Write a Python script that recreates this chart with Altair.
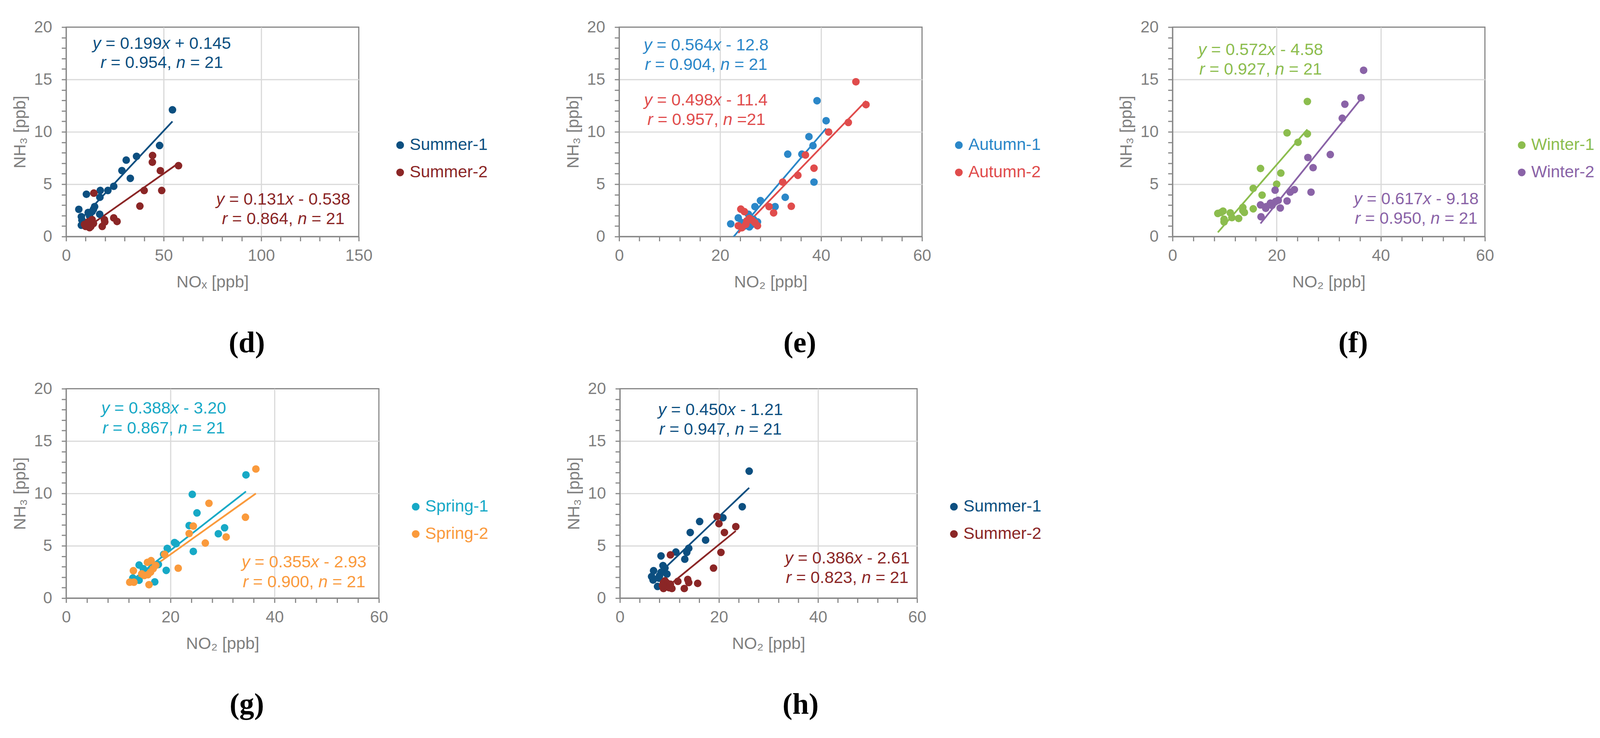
import altair as alt
import pandas as pd

# ---------------- data ----------------
series_d = ["Summer-1", "Summer-2"]
series_e = ["Autumn-1", "Autumn-2"]
series_f = ["Winter-1", "Winter-2"]
series_g = ["Spring-1", "Spring-2"]
series_h = ["Summer-1", "Summer-2"]

d_s1_x = [54.5, 47.9, 36.1, 30.8, 28.6, 32.9, 24.4, 21.4, 17.5, 17.3, 10.4, 6.5, 14.6, 13.3, 17.2, 7.8, 12.0, 8.1, 7.8, 14.0, 11.3]
d_s1_y = [12.1, 8.7, 7.66, 7.3, 6.3, 5.56, 4.8, 4.4, 4.4, 3.75, 4.04, 2.6, 2.86, 2.38, 2.13, 1.9, 1.97, 1.57, 1.08, 2.6, 2.3]
d_s2_x = [57.6, 44.3, 44.2, 48.3, 49.0, 40.0, 37.8, 14.2, 24.4, 26.1, 19.6, 18.5, 13.3, 11.3, 10.0, 12.7, 10.7, 14.0, 12.0, 19.8, 9.4]
d_s2_y = [6.77, 7.74, 7.1, 6.29, 4.4, 4.4, 2.91, 4.15, 1.78, 1.44, 1.62, 0.97, 1.62, 1.4, 0.97, 0.97, 1.13, 1.25, 0.85, 1.4, 1.16]

e_s1_x = [39.2, 41.0, 37.6, 38.4, 33.4, 36.2, 38.6, 32.9, 28.0, 30.9, 26.9, 23.6, 22.1, 25.3, 25.8, 26.3, 24.8, 26.6, 24.3, 25.6, 27.4]
e_s1_y = [12.97, 11.06, 9.54, 8.68, 7.87, 7.87, 5.2, 3.75, 3.43, 2.86, 2.86, 1.78, 1.21, 1.5, 0.92, 1.16, 1.0, 1.65, 1.33, 2.13, 1.4]
e_s2_x = [46.9, 48.9, 45.4, 41.5, 36.9, 38.6, 35.4, 32.4, 29.7, 30.6, 34.1, 24.1, 24.8, 27.4, 23.6, 25.3, 26.3, 24.3, 25.8, 25.1, 26.9]
e_s2_y = [14.78, 12.6, 10.9, 9.98, 7.79, 6.53, 5.85, 5.2, 2.86, 2.26, 2.89, 2.62, 2.38, 1.03, 1.03, 1.5, 1.57, 0.84, 1.73, 1.16, 1.33]

f_s1_x = [25.9, 25.9, 22.0, 24.1, 20.8, 16.9, 20.0, 15.5, 17.2, 15.5, 13.5, 13.8, 11.1, 9.7, 8.7, 12.7, 11.4, 9.9, 9.9, 13.5, 9.3]
f_s1_y = [12.9, 9.81, 9.9, 9.0, 6.06, 6.5, 5.0, 4.6, 3.96, 2.65, 2.78, 2.3, 2.26, 2.43, 2.21, 1.73, 1.81, 1.4, 1.65, 2.49, 2.3]
f_s2_x = [36.7, 36.2, 33.1, 32.6, 30.3, 26.0, 27.0, 26.6, 23.4, 22.6, 19.7, 22.0, 20.3, 18.8, 20.7, 16.9, 17.9, 17.0, 19.1, 19.8, 18.0]
f_s2_y = [15.88, 13.26, 12.64, 11.3, 7.83, 7.55, 6.58, 4.24, 4.48, 4.24, 4.43, 3.4, 3.46, 3.19, 2.73, 3.02, 2.7, 1.89, 2.97, 3.35, 2.86]

g_s1_x = [34.5, 24.2, 25.1, 23.6, 30.4, 29.2, 20.8, 24.4, 19.4, 17.7, 14.0, 19.2, 17.0, 14.0, 12.8, 15.7, 14.8, 16.5, 18.7, 21.1, 14.8]
g_s1_y = [11.77, 9.91, 8.14, 6.93, 6.72, 6.15, 5.31, 4.46, 4.75, 3.21, 3.16, 2.65, 1.55, 1.71, 1.92, 2.49, 2.81, 2.97, 4.18, 5.2, 2.26]
g_s2_x = [36.4, 27.4, 34.4, 24.4, 23.6, 30.7, 26.7, 18.9, 21.5, 15.6, 16.3, 16.7, 12.9, 15.7, 15.0, 12.2, 13.0, 15.9, 16.2, 14.5, 17.2]
g_s2_y = [12.33, 9.06, 7.73, 6.88, 6.17, 5.84, 5.26, 4.18, 2.86, 3.42, 3.58, 2.81, 2.62, 2.24, 2.16, 1.52, 1.52, 1.28, 2.49, 2.32, 3.13]

h_s1_x = [26.1, 24.7, 20.8, 16.1, 14.2, 17.3, 13.9, 13.5, 11.3, 13.1, 8.3, 6.8, 9.1, 8.3, 9.5, 6.4, 6.7, 8.0, 7.6, 8.7, 7.9]
h_s1_y = [12.13, 8.73, 7.68, 7.32, 6.27, 5.54, 4.76, 4.37, 4.4, 3.72, 4.03, 2.62, 2.87, 2.46, 2.3, 2.06, 1.73, 2.14, 1.12, 3.11, 1.9]
h_s2_x = [19.6, 20.0, 23.4, 21.1, 20.4, 10.2, 18.9, 11.7, 13.7, 13.9, 15.7, 13.0, 8.8, 9.4, 10.5, 8.8, 9.6, 9.1, 9.9, 8.6, 10.2]
h_s2_y = [7.8, 7.11, 6.83, 6.27, 4.37, 4.13, 2.87, 1.6, 1.78, 1.49, 1.41, 0.92, 1.49, 1.17, 0.92, 0.92, 1.41, 1.65, 1.0, 1.2, 1.33]

slopes_d, icpts_d = [0.199, 0.131], [0.145, -0.538]
slopes_e, icpts_e = [0.564, 0.498], [-12.8, -11.4]
slopes_f, icpts_f = [0.572, 0.617], [-4.58, -9.18]
slopes_g, icpts_g = [0.388, 0.355], [-3.20, -2.93]
slopes_h, icpts_h = [0.450, 0.386], [-1.21, -2.61]

eq_d = [["y = 0.199x + 0.145", "r = 0.954, n = 21"], ["y = 0.131x - 0.538", "r = 0.864, n = 21"]]
eq_e = [["y = 0.564x - 12.8", "r = 0.904, n = 21"], ["y = 0.498x - 11.4", "r = 0.957, n =21"]]
eq_f = [["y = 0.572x - 4.58", "r = 0.927, n = 21"], ["y = 0.617x - 9.18", "r = 0.950, n = 21"]]
eq_g = [["y = 0.388x - 3.20", "r = 0.867, n = 21"], ["y = 0.355x - 2.93", "r = 0.900, n = 21"]]
eq_h = [["y = 0.450x - 1.21", "r = 0.947, n = 21"], ["y = 0.386x - 2.61", "r = 0.823, n = 21"]]

x_titles = {"d": "NOₓ [ppb]", "e": "NO₂ [ppb]", "f": "NO₂ [ppb]", "g": "NO₂ [ppb]", "h": "NO₂ [ppb]"}
x_max = {"d": 150, "e": 60, "f": 60, "g": 60, "h": 60}
panel_labels = {"d": "(d)", "e": "(e)", "f": "(f)", "g": "(g)", "h": "(h)"}
y_title = "NH₃ [ppb]"

# ---------------- styles ----------------
COLORS = {
    "Summer-1": "#0c4f80", "Summer-2": "#8b2626",
    "Autumn-1": "#2b87c8", "Autumn-2": "#e04c4c",
    "Winter-1": "#8cbd4e", "Winter-2": "#8a63a7",
    "Spring-1": "#17a9c6", "Spring-2": "#fa9a3c",
}
GRAY_TXT = "#7f7f7f"
GRAY_AX = "#878787"
FONT = "Liberation Sans"
PLOT_H = 552
# plot widths, annotation centres (relative to plot), legend offset
LAYOUT = {
    "d": dict(w=771, ann=[(252, 44, 95), (572, 455, 506)], leg=109),
    "e": dict(w=798, ann=[(229, 48, 100), (230, 193, 245)], leg=97),
    "f": dict(w=823, ann=[(232, 61, 112), (642, 454, 505)], leg=97),
    "g": dict(w=824, ann=[(257, 52, 105), (627, 458, 510)], leg=97),
    "h": dict(w=783, ann=[(265, 57, 108), (599, 448, 499)], leg=97),
}
ANN_FS = 44
# Arial / Liberation Sans advance widths (em)
CW = {c: 0.556 for c in "0123456789"}
CW.update({".": 0.278, " ": 0.278, "=": 0.584, "+": 0.584, "-": 0.333, ",": 0.278,
           "x": 0.5, "y": 0.5, "r": 0.333, "n": 0.556})

PANELS = {
    "d": dict(series=series_d, xs=[d_s1_x, d_s2_x], ys=[d_s1_y, d_s2_y], m=slopes_d, b=icpts_d, eq=eq_d),
    "e": dict(series=series_e, xs=[e_s1_x, e_s2_x], ys=[e_s1_y, e_s2_y], m=slopes_e, b=icpts_e, eq=eq_e),
    "f": dict(series=series_f, xs=[f_s1_x, f_s2_x], ys=[f_s1_y, f_s2_y], m=slopes_f, b=icpts_f, eq=eq_f),
    "g": dict(series=series_g, xs=[g_s1_x, g_s2_x], ys=[g_s1_y, g_s2_y], m=slopes_g, b=icpts_g, eq=eq_g),
    "h": dict(series=series_h, xs=[h_s1_x, h_s2_x], ys=[h_s1_y, h_s2_y], m=slopes_h, b=icpts_h, eq=eq_h),
}


def seg_rows(line, cx, cy, color):
    runs = []
    for ch in line:
        it = ch.isalpha()
        if runs and runs[-1][1] == it:
            runs[-1][0] += ch
        else:
            runs.append([ch, it])
    total = sum(CW[c] for c in line) * ANN_FS
    x = cx - total / 2
    rows = []
    for txt, it in runs:
        w = sum(CW[c] for c in txt) * ANN_FS
        lead = len(txt) - len(txt.lstrip(" "))
        s = txt.strip(" ")
        if s:
            rows.append(dict(px=x + lead * CW[" "] * ANN_FS, py=cy, t=s, it=it, c=color))
        x += w
    return rows


def make_panel(key):
    P, L = PANELS[key], LAYOUT[key]
    w = L["w"]
    xmax = x_max[key]
    step, major = (10, 50) if xmax == 150 else (4, 20)

    rows = []
    for name, xs, ys, m, b in zip(P["series"], P["xs"], P["ys"], P["m"], P["b"]):
        for xv, yv in zip(xs, ys):
            rows.append(dict(series=name, x=xv, y=yv, m=m, b=b, c=COLORS[name]))
    df = pd.DataFrame(rows)

    xaxis = alt.Axis(
        title=x_titles[key], values=list(range(0, xmax + 1, step)),
        labelExpr=f"datum.value % {major} === 0 ? datum.label : ''",
        gridOpacity={"condition": {"test": f"datum.value % {major} === 0 && datum.value > 0 && datum.value < {xmax}", "value": 1}, "value": 0},
    )
    yaxis = alt.Axis(
        title=y_title, values=list(range(0, 21)),
        labelExpr="datum.value % 5 === 0 ? datum.label : ''",
        gridOpacity={"condition": {"test": "datum.value % 5 === 0 && datum.value > 0 && datum.value < 20", "value": 1}, "value": 0},
    )
    xs = alt.Scale(domain=[0, xmax], nice=False)
    ys = alt.Scale(domain=[0, 20], nice=False)

    base = alt.Chart(df)
    lines = base.transform_calculate(fit="datum.m * datum.x + datum.b").mark_line(
        strokeWidth=4.5, clip=True
    ).encode(
        x=alt.X("x:Q", scale=xs, axis=xaxis),
        y=alt.Y("fit:Q", scale=ys, axis=yaxis),
        detail="series:N",
        color=alt.Color("c:N", scale=None),
    )
    pts = base.mark_circle(size=400, opacity=1).encode(
        x=alt.X("x:Q", scale=xs, axis=xaxis),
        y=alt.Y("y:Q", scale=ys, axis=yaxis),
        color=alt.Color("c:N", scale=None),
    )

    arows = []
    for (cx, cy1, cy2), name, pair in zip(L["ann"], P["series"], P["eq"]):
        arows += seg_rows(pair[0], cx, cy1, COLORS[name])
        arows += seg_rows(pair[1], cx, cy2, COLORS[name])
    adf = pd.DataFrame(arows)

    def ann_layer(sub, style):
        return alt.Chart(sub).mark_text(
            font=FONT, fontSize=ANN_FS, fontStyle=style, align="left", baseline="middle"
        ).encode(
            x=alt.X("px:Q", scale=None, axis=None),
            y=alt.Y("py:Q", scale=None, axis=None),
            text="t:N",
            color=alt.Color("c:N", scale=None),
        )

    ann_i = ann_layer(adf[adf["it"]], "italic")
    ann_n = ann_layer(adf[~adf["it"]], "normal")

    lrows = [dict(name=n, lx=w + L["leg"], ly=[311, 383][i], c=COLORS[n]) for i, n in enumerate(P["series"])]
    ldf = pd.DataFrame(lrows)
    leg_pts = alt.Chart(ldf).mark_circle(size=415, opacity=1).encode(
        x=alt.X("lx:Q", scale=None, axis=None),
        y=alt.Y("ly:Q", scale=None, axis=None),
        color=alt.Color("c:N", scale=None),
    )
    leg_txt = alt.Chart(ldf).transform_calculate(tx="datum.lx + 25").mark_text(
        font=FONT, fontSize=44, align="left", baseline="middle"
    ).encode(
        x=alt.X("tx:Q", scale=None, axis=None),
        y=alt.Y("ly:Q", scale=None, axis=None),
        text="name:N",
        color=alt.Color("c:N", scale=None),
    )

    lab = alt.Chart(pd.DataFrame([dict(t=panel_labels[key], px=476, py=834)])).mark_text(
        font="Liberation Serif", fontSize=78, fontWeight="bold", color="black",
        align="center", baseline="middle"
    ).encode(
        x=alt.X("px:Q", scale=None, axis=None),
        y=alt.Y("py:Q", scale=None, axis=None),
        text="t:N",
    )

    return alt.layer(lines, pts, ann_i, ann_n, leg_pts, leg_txt, lab).properties(width=w, height=PLOT_H)


row1 = alt.hconcat(make_panel("d"), make_panel("e"), make_panel("f"), spacing=200)
row2 = alt.hconcat(make_panel("g"), make_panel("h"), spacing=200)

chart = alt.vconcat(row1, row2, spacing=55).properties(
    padding={"left": 21, "top": 13, "right": 5, "bottom": 5},
    background="white",
).configure_view(
    stroke=GRAY_AX, strokeWidth=3
).configure_axis(
    labelFont=FONT, labelFontSize=43, labelColor=GRAY_TXT,
    titleFont=FONT, titleFontSize=44, titleColor=GRAY_TXT, titleFontWeight="normal",
    tickColor=GRAY_AX, tickWidth=3, tickSize=12,
    domainColor=GRAY_AX, domainWidth=3,
    gridColor="#d9d9d9", gridWidth=3,
    labelFlush=False, labelOverlap=False,
).configure_axisX(
    labelPadding=18, titlePadding=25
).configure_axisY(
    labelPadding=25, titlePadding=14
)

chart.save("out.html", embed_options={"renderer": "svg", "actions": False})
